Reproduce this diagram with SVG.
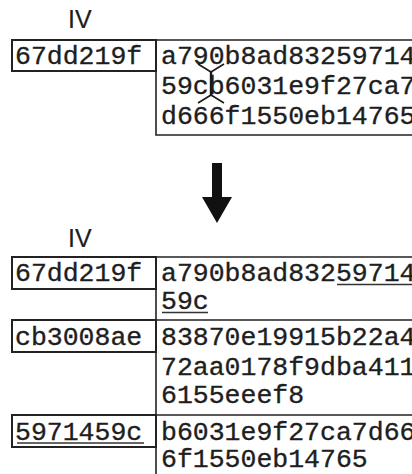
<svg xmlns="http://www.w3.org/2000/svg" width="412" height="474" viewBox="0 0 412 474">
  <style>
    .mono { font-family: "Liberation Mono", "Courier New", monospace; font-size: 26.5px; fill: #1e1e1e; stroke: #1e1e1e; stroke-width: 0.35px; }
    .iv { font-family: "Liberation Sans", Arial, sans-serif; font-size: 25px; fill: #1e1e1e; stroke: #1e1e1e; stroke-width: 0.2px; }
    .frame { fill: none; stroke: #222; stroke-width: 2; }
    .rule { fill: none; stroke: #222; stroke-width: 1.6; }
    .ul { stroke: #333; stroke-width: 1.5; }
  </style>
  <rect width="412" height="474" fill="#fff"/>

  <!-- before: IV block and ciphertext block with cut mark -->
  <g id="before">
    <text class="iv" x="68" y="28">IV</text>
    <g id="before-iv">
      <rect class="frame" x="12" y="40" width="144" height="31"/>
      <text class="mono" x="15" y="64">67dd219f</text>
    </g>
    <g id="before-data">
      <path class="rule" d="M156,40 H412 M156,40 V135 H412"/>
      <text class="mono" x="161" y="64">a790b8ad83259714</text>
      <text class="mono" x="161" y="94">59cb6031e9f27ca7</text>
      <text class="mono" x="161" y="123.5">d666f1550eb14765</text>
    </g>
    <g id="cut-mark">
      <path fill="none" stroke="#1a1a1a" stroke-width="1.6" d="M198,64 L211,72 L224,64 M198,103 L211,95 L224,103"/>
      <path fill="none" stroke="#1a1a1a" stroke-width="2.4" d="M211,72 V95"/>
    </g>
  </g>

  <!-- transition arrow -->
  <g id="connectors">
    <path fill="#111" d="M212,163 H222 V197 H232 L217,223 L202,197 H212 Z"/>
  </g>

  <!-- after: IV plus three blocks -->
  <g id="after">
    <text class="iv" x="68" y="247">IV</text>
    <path class="rule" d="M156,257 H412 M12,320 H412 M12,415 H412 M156,257 V474"/>
    <g id="row1">
      <rect class="frame" x="12" y="257" width="144" height="32"/>
      <text class="mono" x="15" y="281">67dd219f</text>
      <text class="mono" x="161" y="281">a790b8ad83259714</text>
      <text class="mono" x="161" y="309">59c</text>
      <line class="ul" x1="337" y1="284.5" x2="412" y2="284.5"/>
      <line class="ul" x1="162" y1="312.5" x2="208" y2="312.5"/>
    </g>
    <g id="row2">
      <rect class="frame" x="12" y="320" width="144" height="32"/>
      <text class="mono" x="15" y="345">cb3008ae</text>
      <text class="mono" x="161" y="345">83870e19915b22a4</text>
      <text class="mono" x="161" y="374.5">72aa0178f9dba411</text>
      <text class="mono" x="161" y="403">6155eeef8</text>
    </g>
    <g id="row3">
      <rect class="frame" x="12" y="415" width="144" height="32"/>
      <text class="mono" x="15" y="439.5">5971459c</text>
      <line class="ul" x1="17" y1="443" x2="144" y2="443"/>
      <text class="mono" x="161" y="439.5">b6031e9f27ca7d66</text>
      <text class="mono" x="161" y="466.5">6f1550eb14765</text>
    </g>
  </g>
</svg>
